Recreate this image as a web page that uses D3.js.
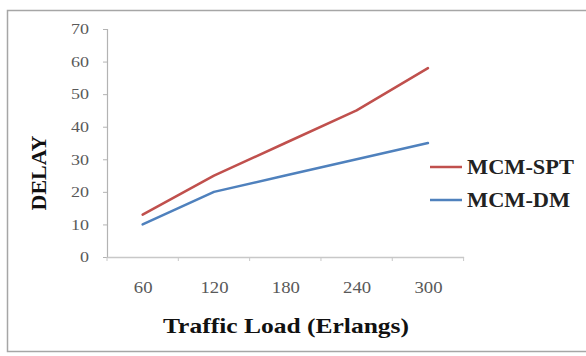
<!DOCTYPE html>
<html>
<head>
<meta charset="utf-8">
<script src="https://cdn.jsdelivr.net/npm/d3@7"></script>
<style>
  html, body { margin: 0; padding: 0; background: #fff; }
  svg { display: block; }
  text { font-family: "Liberation Serif", "Times New Roman", serif; }
</style>
</head>
<body>
<svg id="chart" width="586" height="356"></svg>
<script>
// Traffic load categories (Erlangs) and delay per scheme
const loads = [60, 120, 180, 240, 300];
const spt = [13, 25, 35, 45, 58];
const dm = [10, 20, 25, 30, 35];
const yTicks = [0, 10, 20, 30, 40, 50, 60, 70];
const seriesNames = ["MCM-SPT", "MCM-DM"];
const seriesColors = ["#C0504D", "#4F81BD"];

// glyphs in this figure are a little wider than plain Times
const stretch = 1.16;

const svg = d3.select("#chart");

// outer frame
svg.append("rect")
  .attr("x", 7.5).attr("y", 10.5)
  .attr("width", 590).attr("height", 341)
  .attr("fill", "#fff")
  .attr("stroke", "#a6a6a6").attr("stroke-width", 1.5);

const plot = { left: 107, right: 463.6, top: 29, bottom: 257 };

const x = d3.scalePoint()
  .domain(loads)
  .range([plot.left, plot.right])
  .padding(0.5);

const y = d3.scaleLinear()
  .domain([0, 70])
  .range([plot.bottom, plot.top]);

// widen a tick label around its own anchor
function widen(sel, sx) {
  sel.each(function () {
    const t = d3.select(this);
    const tx = +t.attr("x") || 0;
    t.attr("x", 0).attr("transform", `translate(${tx},0) scale(${sx},1)`);
  });
}

// y axis
const yAxis = d3.axisLeft(y).tickValues(yTicks).tickSize(4).tickPadding(14);
const gy = svg.append("g").attr("transform", `translate(${plot.left},0)`).call(yAxis);
gy.select(".domain").attr("stroke", "#b3b3b3").attr("stroke-width", 1.2);
gy.selectAll(".tick line").attr("stroke", "#b3b3b3");
gy.selectAll(".tick text")
  .attr("fill", "#595959")
  .style("font-size", "15px")
  .style("font-family", "Liberation Serif")
  .call(widen, 1.2);

// x axis
const xAxis = d3.axisBottom(x).tickSize(0).tickPadding(25);
const gx = svg.append("g").attr("transform", `translate(0,${plot.bottom})`).call(xAxis);
gx.select(".domain").attr("stroke", "#c8c8c8").attr("stroke-width", 1.6);
gx.selectAll(".tick text")
  .attr("fill", "#595959")
  .style("font-size", "16px")
  .style("font-family", "Liberation Serif")
  .call(widen, 1.17);

// category boundary tick marks
const step = x.step();
const bounds = d3.range(loads.length + 1).map(i => plot.left + i * step);
svg.append("g").selectAll("line").data(bounds).join("line")
  .attr("x1", d => d).attr("x2", d => d)
  .attr("y1", plot.bottom).attr("y2", plot.bottom + 4)
  .attr("stroke", "#c8c8c8").attr("stroke-width", 1);

// series lines
const line = d3.line()
  .x((d, i) => x(loads[i]))
  .y(d => y(d));

[spt, dm].forEach((vals, k) => {
  svg.append("path")
    .datum(vals)
    .attr("d", line)
    .attr("fill", "none")
    .attr("stroke", seriesColors[k])
    .attr("stroke-width", 2.5)
    .attr("stroke-linejoin", "round")
    .attr("stroke-linecap", "round");
});

// axis titles
svg.append("text")
  .attr("transform", `translate(286,333) scale(${stretch},1)`)
  .attr("text-anchor", "middle")
  .style("font-size", "22px").style("font-weight", "bold")
  .attr("fill", "#111")
  .text("Traffic Load (Erlangs)");

svg.append("text")
  .attr("transform", "translate(46,173) rotate(-90)")
  .attr("text-anchor", "middle")
  .style("font-size", "22px").style("font-weight", "bold")
  .attr("fill", "#111")
  .text("DELAY");

// legend
const legend = svg.append("g");
seriesNames.forEach((name, k) => {
  const ly = 167 + k * 33;
  legend.append("line")
    .attr("x1", 430).attr("x2", 462)
    .attr("y1", ly).attr("y2", ly)
    .attr("stroke", seriesColors[k]).attr("stroke-width", 2.5);
  legend.append("text")
    .attr("transform", `translate(467,${ly + 7}) scale(1.12,1)`)
    .style("font-size", "20px").style("font-weight", "bold")
    .attr("fill", "#222")
    .text(name);
});
</script>
</body>
</html>
